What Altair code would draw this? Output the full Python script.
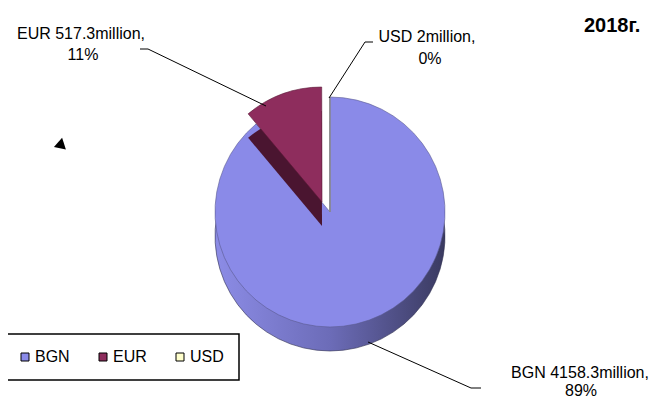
import altair as alt
import pandas as pd

# ---- data ----
currencies = ["BGN", "EUR", "USD"]
amounts = [4158.3, 517.3, 2.0]          # million
slice_order = [0, 1, 2]
year_label = "2018г."

total = sum(amounts)
pcts = [round(a / total * 100) for a in amounts]
amount_txt = [("%g" % a) for a in amounts]

df = pd.DataFrame({"currency": currencies, "amount": amounts, "ord": slice_order})
one = pd.DataFrame({"k": [0]})

# ---- styles ----
FONT = "Liberation Sans, Arial, sans-serif"
FS = 16
top_colors = ["#8a8ae8", "#8e2d5d", "#ffffcc"]
CX, CY, R, DEPTH = 322, 204, 115, 24
EX, EY = -8, -10

side_grad = alt.Gradient(
    gradient="linear",
    stops=[
        alt.GradientStop(color="#8c8ce6", offset=0),
        alt.GradientStop(color="#6c6cb8", offset=0.5),
        alt.GradientStop(color="#3a3a60", offset=1),
    ],
    x1=0, x2=1, y1=0, y2=0,
)

base = (
    alt.Chart(df)
    .transform_joinaggregate(tot="sum(amount)")
    .transform_window(cum="sum(amount)", sort=[alt.SortField("ord")])
    .transform_calculate(
        t0="(datum.cum - datum.amount) / datum.tot",
        t1="datum.cum / datum.tot",
    )
)

theta = alt.Theta("t0:Q", stack=None,
                  scale=alt.Scale(domain=[0, 1], range=[0, 6.283185307179586]))
theta2 = alt.Theta2("t1:Q")
color = alt.Color("currency:N", title=None,
                  scale=alt.Scale(domain=currencies, range=top_colors))

side_bgn = base.transform_filter("datum.currency == 'BGN'").mark_arc(
    radius=R, fill=side_grad, stroke="#303050", strokeWidth=0.6
).encode(theta=theta, theta2=theta2, x=alt.value(CX), y=alt.value(CY + DEPTH))

top_main = base.transform_filter("datum.currency != 'EUR'").mark_arc(
    radius=R
).encode(
    theta=theta, theta2=theta2, color=color,
    stroke=alt.condition("datum.currency == 'USD'", alt.value("#8c8c8c"), alt.value("#5a5a90")),
    strokeWidth=alt.condition("datum.currency == 'USD'", alt.value(1), alt.value(0.6)),
    x=alt.value(CX), y=alt.value(CY),
)

side_eur = base.transform_filter("datum.currency == 'EUR'").mark_arc(
    radius=R, fill="#4a1530"
).encode(theta=theta, theta2=theta2,
         x=alt.value(CX + EX), y=alt.value(CY + EY + DEPTH))

top_eur = base.transform_filter("datum.currency == 'EUR'").mark_arc(
    radius=R, stroke="#5a1a38", strokeWidth=0.6
).encode(theta=theta, theta2=theta2, color=color,
         x=alt.value(CX + EX), y=alt.value(CY + EY))


def seg(x1, y1, x2, y2):
    return alt.Chart(one).mark_rule(color="black", strokeWidth=1).encode(
        x=alt.value(x1), y=alt.value(y1), x2=alt.value(x2), y2=alt.value(y2)
    )


def txt(s, x, y, bold=False, size=FS, align="center"):
    return alt.Chart(one).mark_text(
        text=s, font=FONT, fontSize=size, align=align, baseline="alphabetic",
        fontWeight="bold" if bold else "normal", color="black",
    ).encode(x=alt.value(x), y=alt.value(y))


labels = [
    txt(f"{currencies[1]} {amount_txt[1]}million,", 73, 31),
    txt(f"{pcts[1]}%", 75, 52),
    txt(f"{currencies[2]} {amount_txt[2]}million,", 419, 34),
    txt(f"{pcts[2]}%", 422, 56),
    txt(f"{currencies[0]} {amount_txt[0]}million,", 572, 370),
    txt(f"{pcts[0]}%", 573, 388),
    txt(year_label, 576, 24, bold=True, size=20, align="left"),
]

leaders = [
    seg(132, 41, 140, 41), seg(140, 41, 258, 98),
    seg(357, 34, 365, 34), seg(357, 34, 321, 90),
    seg(360, 334, 463, 380), seg(463, 380, 473, 380),
]

marker = alt.Chart(one).mark_point(
    shape="triangle-up", filled=True, color="black", size=150, angle=12, opacity=1
).encode(x=alt.value(53), y=alt.value(135))

chart = alt.layer(
    side_bgn, top_main, side_eur, top_eur, *leaders, *labels, marker
).properties(
    width=650, height=390, autosize="none", padding=0
).configure_view(stroke=None).configure_legend(
    orient="none", legendX=-6, legendY=326, direction="horizontal",
    strokeColor="black", strokeWidth=1.5, padding=15,
    symbolType="square", symbolSize=64, symbolStrokeColor="black",
    symbolStrokeWidth=1, labelFont=FONT, labelFontSize=FS, labelColor="black",
    labelOffset=2, columnPadding=25, fillColor="white",
)

chart.save("out.html", embed_options={"renderer": "svg", "actions": False})
